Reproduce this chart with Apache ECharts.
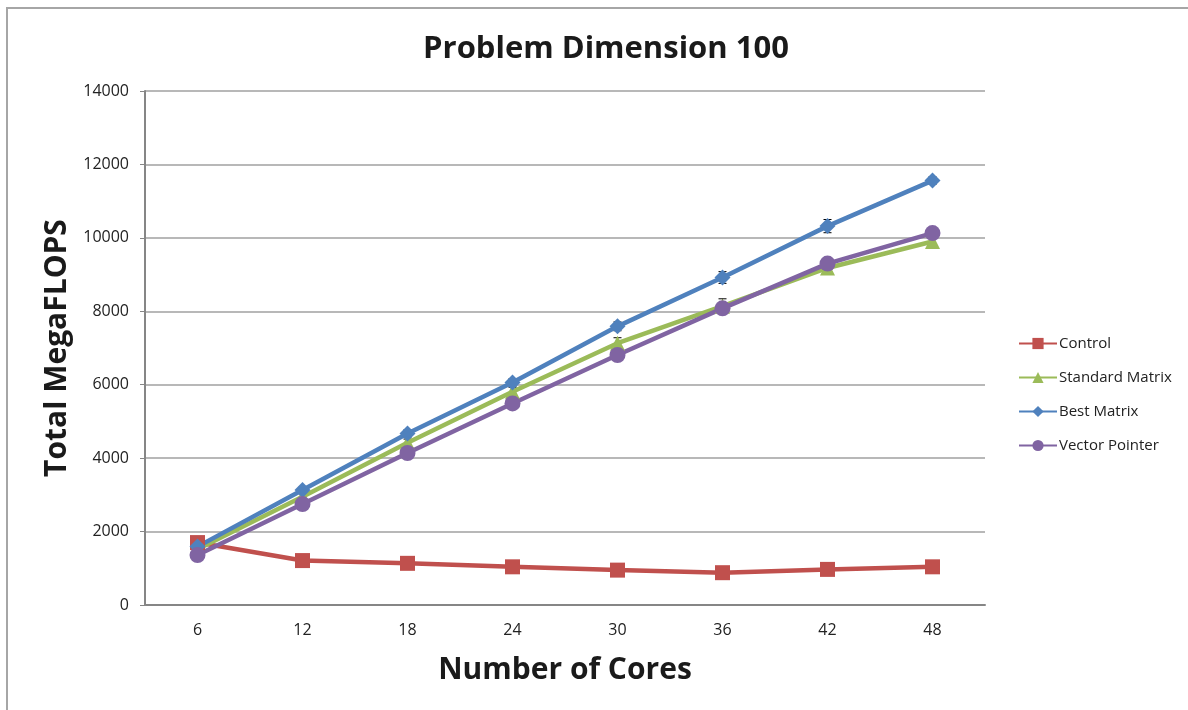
<!DOCTYPE html>
<html>
<head>
<meta charset="utf-8">
<script src="https://cdn.jsdelivr.net/npm/echarts@6/dist/echarts.min.js"></script>
<style>
  html, body { margin: 0; padding: 0; background: #fff; }
  #frame {
    position: absolute; left: 6px; top: 7px; width: 1182px; height: 703px;
    border-top: 2px solid #a6a6a6; border-left: 2px solid #a6a6a6;
  }
  #chart { position: absolute; left: 0; top: 0; width: 1188px; height: 710px; }
</style>
</head>
<body>
<div id="frame"></div>
<div id="chart"></div>
<script>
const cores = ['6', '12', '18', '24', '30', '36', '42', '48'];
const yTicks = [0, 2000, 4000, 6000, 8000, 10000, 12000, 14000];

const control = [1700, 1210, 1135, 1040, 950, 880, 970, 1040];
const standardMatrix = [1520, 2950, 4420, 5810, 7130, 8140, 9180, 9900];
const bestMatrix = [1590, 3130, 4670, 6060, 7590, 8920, 10320, 11560];
const vectorPointer = [1360, 2750, 4140, 5490, 6810, 8080, 9300, 10130];

// error bar half-widths
const standardErr = [60, 80, 100, 120, 150, 200, 120, 150];
const bestErr = [60, 80, 100, 100, 120, 160, 180, 100];

const font = '"Open Sans", "Liberation Sans", sans-serif';

const errorSeries = (values, errs) => ({
  type: 'custom',
  z: 5,
  silent: true,
  data: values.map((v, i) => [i, v - errs[i], v + errs[i]]),
  renderItem: (params, api) => {
    const lo = api.coord([api.value(0), api.value(1)]);
    const hi = api.coord([api.value(0), api.value(2)]);
    const w = 4;
    const style = {stroke: '#000', lineWidth: 1};
    return {
      type: 'group',
      children: [
        {type: 'line', shape: {x1: lo[0], y1: lo[1], x2: hi[0], y2: hi[1]}, style},
        {type: 'line', shape: {x1: lo[0] - w, y1: lo[1], x2: lo[0] + w, y2: lo[1]}, style},
        {type: 'line', shape: {x1: hi[0] - w, y1: hi[1], x2: hi[0] + w, y2: hi[1]}, style},
      ],
    };
  },
});

const lineSeries = (name, data, color, symbol, size) => ({
  name: name,
  type: 'line',
  data: data,
  symbol: symbol,
  symbolSize: size,
  z: 10,
  lineStyle: {color: color, width: 4.5},
  itemStyle: {color: color},
});

const myChart = echarts.init(document.getElementById('chart'));
const option = {
  animation: false,
  textStyle: {fontFamily: font},
  title: {
    text: 'Problem Dimension 100',
    left: 601,
    textAlign: 'center',
    top: 29,
    textStyle: {fontFamily: font, fontSize: 31, fontWeight: 'bold', color: '#1a1a1a'},
  },
  legend: {
    orient: 'vertical',
    left: 1013,
    top: 331,
    itemGap: 19,
    itemWidth: 38,
    itemHeight: 14,
    data: ['Control', 'Standard Matrix', 'Best Matrix', 'Vector Pointer'],
    textStyle: {fontFamily: font, fontSize: 15, color: '#222', padding: [0, 0, 0, -3]},
  },
  grid: {left: 145, right: 203, top: 91, bottom: 105},
  xAxis: {
    type: 'category',
    data: cores,
    boundaryGap: true,
    name: 'Number of Cores',
    nameLocation: 'middle',
    nameGap: 50,
    nameTextStyle: {fontFamily: font, fontSize: 30, fontWeight: 'bold', color: '#1a1a1a'},
    axisLine: {lineStyle: {color: '#868686', width: 2}},
    axisTick: {show: false},
    axisLabel: {fontSize: 16, color: '#222', margin: 17},
  },
  yAxis: {
    type: 'value',
    min: yTicks[0],
    max: yTicks[yTicks.length - 1],
    interval: 2000,
    name: 'Total MegaFLOPS',
    nameLocation: 'middle',
    nameGap: 72,
    nameTextStyle: {fontFamily: font, fontSize: 30, fontWeight: 'bold', color: '#1a1a1a'},
    axisLine: {show: true, lineStyle: {color: '#868686', width: 2}},
    axisTick: {show: true, length: 5, lineStyle: {color: '#868686'}},
    axisLabel: {fontSize: 16, color: '#222', margin: 16, formatter: (v) => String(v)},
    splitLine: {lineStyle: {color: '#a0a0a0', width: 1.5}},
  },
  series: [
    lineSeries('Control', control, '#C0504D', 'rect', 15),
    errorSeries(standardMatrix, standardErr),
    lineSeries('Standard Matrix', standardMatrix, '#9BBB59', 'triangle', 15),
    errorSeries(bestMatrix, bestErr),
    lineSeries('Best Matrix', bestMatrix, '#4F81BD', 'diamond', 16),
    lineSeries('Vector Pointer', vectorPointer, '#8064A2', 'circle', 16),
  ],
};
myChart.setOption(option);
</script>
</body>
</html>
